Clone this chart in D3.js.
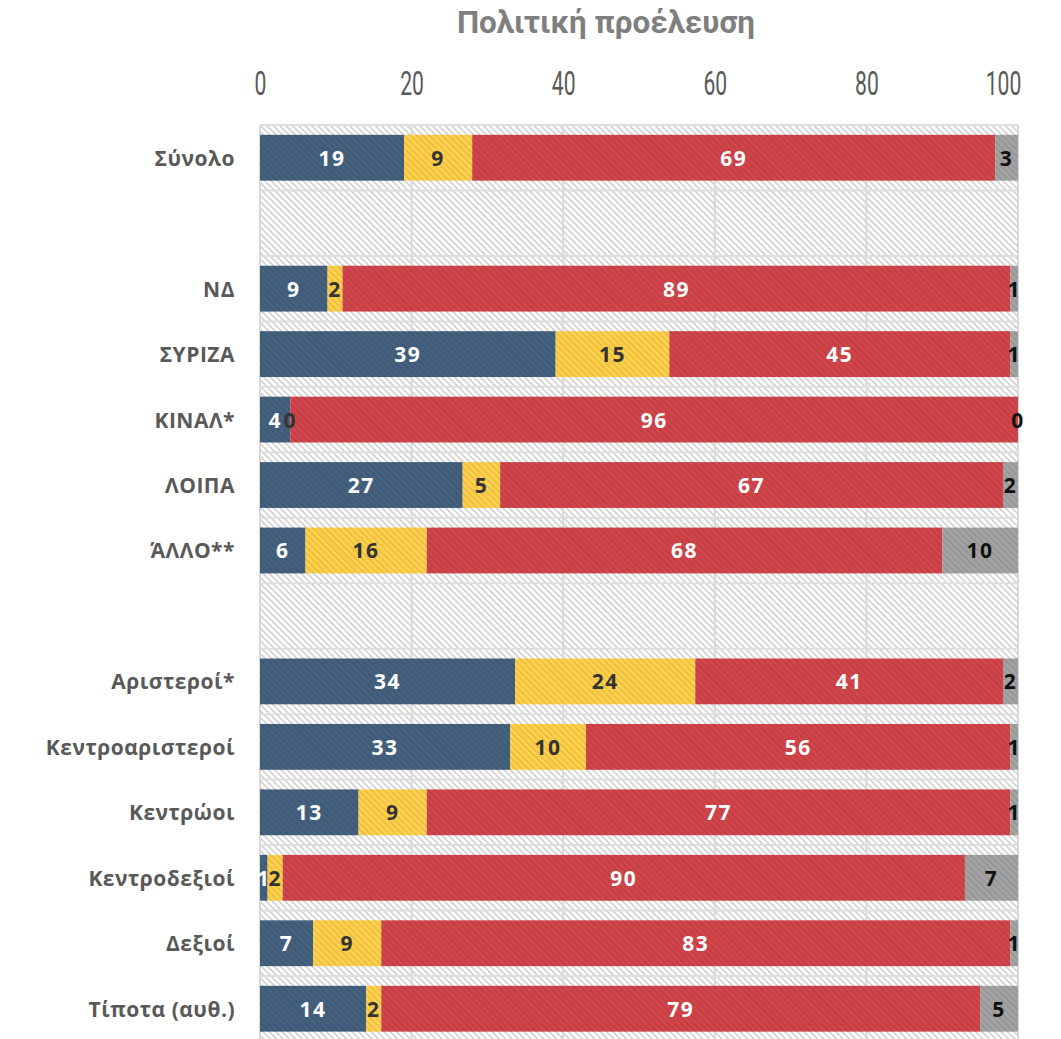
<!DOCTYPE html>
<html><head><meta charset="utf-8">
<script src="https://cdn.jsdelivr.net/npm/d3@7"></script>
<style>body{margin:0;background:#fff}svg{display:block}</style>
</head><body>
<svg id="c" width="1061" height="1039"></svg>
<script>
const title = "Πολιτική προέλευση";
const categories = ["Σύνολο", "", "ΝΔ", "ΣΥΡΙΖΑ", "ΚΙΝΑΛ*", "ΛΟΙΠΑ", "ΆΛΛΟ**", "", "Αριστεροί*", "Κεντροαριστεροί", "Κεντρώοι", "Κεντροδεξιοί", "Δεξιοί", "Τίποτα (αυθ.)"];
const seriesKeys = ["s1", "s2", "s3", "s4"];
const s1 = [19, null, 9, 39, 4, 27, 6, null, 34, 33, 13, 1, 7, 14];
const s2 = [9, null, 2, 15, 0, 5, 16, null, 24, 10, 9, 2, 9, 2];
const s3 = [69, null, 89, 45, 96, 67, 68, null, 41, 56, 77, 90, 83, 79];
const s4 = [3, null, 1, 1, 0, 2, 10, null, 2, 1, 1, 7, 1, 5];
const tickValues = [0, 20, 40, 60, 80, 100];

(function () {
const colors = {s1: "#44617f", s2: "#ffd04a", s3: "#d2454a", s4: "#a3a3a3"};
const labelColors = {s1: "#ffffff", s2: "#333333", s3: "#ffffff", s4: "#111111"};

const svg = d3.select("#c");
const pL = 260, pR = 1018, pT = 125;
const step = 65.46;
const pB = pT + step * categories.length;

const x = d3.scaleLinear().domain([0, 100]).range([pL, pR]);
const y = d3.scaleBand().domain(d3.range(categories.length)).range([pT, pB]).paddingInner(0.3).paddingOuter(0.15);

const defs = svg.append("defs");
const bg = defs.append("pattern").attr("id", "bgh").attr("patternUnits", "userSpaceOnUse")
  .attr("width", 4.5).attr("height", 4.5).attr("patternTransform", "rotate(-45)");
bg.append("rect").attr("width", 4.5).attr("height", 4.5).attr("fill", "#ffffff");
bg.append("rect").attr("width", 1.8).attr("height", 4.5).attr("fill", "#d4d4d4");
const bh = defs.append("pattern").attr("id", "barh").attr("patternUnits", "userSpaceOnUse")
  .attr("width", 4.5).attr("height", 4.5).attr("patternTransform", "rotate(-45)");
bh.append("rect").attr("width", 1.6).attr("height", 4.5).attr("fill", "rgba(0,0,0,0.09)");

svg.append("rect").attr("x", pL).attr("y", pT).attr("width", pR - pL).attr("height", pB - pT).attr("fill", "url(#bgh)");

svg.append("g").selectAll("line").data(tickValues).join("line")
  .attr("x1", d => x(d)).attr("x2", d => x(d)).attr("y1", pT).attr("y2", pB)
  .attr("stroke", "#d9d9d9").attr("stroke-width", 2);
svg.append("g").selectAll("line").data(d3.range(categories.length + 1)).join("line")
  .attr("x1", pL).attr("x2", pR).attr("y1", i => pT + i * step).attr("y2", i => pT + i * step)
  .attr("stroke", "#dedede").attr("stroke-width", 2);

const rows = categories.map((c, i) => ({idx: i, s1: s1[i], s2: s2[i], s3: s3[i], s4: s4[i]})).filter(r => r.s1 !== null);
const stacked = d3.stack().keys(seriesKeys).offset(d3.stackOffsetExpand)(rows);

const gBars = svg.append("g");
stacked.forEach(layer => {
  const key = layer.key;
  gBars.append("g").selectAll("rect").data(layer).join("rect")
    .attr("x", d => x(d[0] * 100)).attr("width", d => x(d[1] * 100) - x(d[0] * 100))
    .attr("y", d => y(d.data.idx)).attr("height", y.bandwidth())
    .attr("fill", colors[key]);
  gBars.append("g").selectAll("rect").data(layer).join("rect")
    .attr("x", d => x(d[0] * 100)).attr("width", d => x(d[1] * 100) - x(d[0] * 100))
    .attr("y", d => y(d.data.idx)).attr("height", y.bandwidth())
    .attr("fill", "url(#barh)");
});
stacked.forEach(layer => {
  const key = layer.key;
  svg.append("g").selectAll("text").data(layer).join("text")
    .attr("x", d => x((d[0] + d[1]) / 2 * 100)).attr("y", d => y(d.data.idx) + y.bandwidth() / 2)
    .attr("text-anchor", "middle").attr("dominant-baseline", "central")
    .attr("font-family", "Open Sans").attr("font-weight", 700).attr("font-size", 21)
    .attr("letter-spacing", 1.5)
    .attr("fill", labelColors[key])
    .text(d => d.data[key]);
});

const axis = d3.axisTop(x).tickValues(tickValues).tickSize(0).tickPadding(0);
const ga = svg.append("g").attr("transform", "translate(0,95)").call(axis);
ga.select(".domain").remove();
ga.selectAll("text").attr("font-family", "Roboto").attr("font-weight", 400).attr("font-size", 33)
  .attr("fill", "#595959").attr("dy", 0)
  .attr("transform", d => d === 100 ? "translate(-15,0) scale(0.64,1)" : "scale(0.64,1)");

svg.append("g").selectAll("text").data(categories.map((c, i) => ({c, i}))).join("text")
  .attr("x", 235).attr("y", d => y(d.i) + y.bandwidth() / 2)
  .attr("text-anchor", "end").attr("dominant-baseline", "central")
  .attr("font-family", "Open Sans").attr("font-weight", 700).attr("font-size", 21)
  .attr("letter-spacing", 0.5)
  .attr("fill", "#595959").text(d => d.c);

svg.append("text").attr("transform", "translate(606,33) scale(0.98,1)").attr("text-anchor", "middle")
  .attr("font-family", "Roboto").attr("font-weight", 700).attr("font-size", 32)
  .attr("fill", "#7f7f7f").text(title);
})();
</script>
</body></html>
